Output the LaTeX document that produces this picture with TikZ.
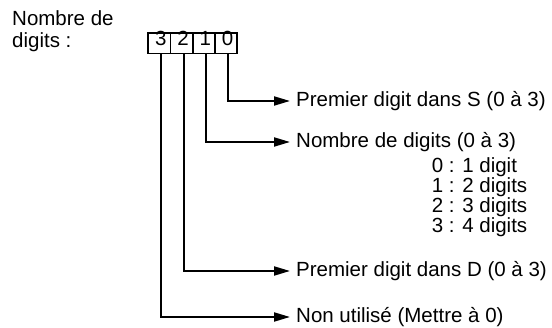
\documentclass[tikz,border=0pt]{standalone}
\usepackage{fontspec}
\setmainfont{Liberation Sans}
\usetikzlibrary{positioning, arrows.meta}

\begin{document}
\begin{tikzpicture}[x=1pt, y=-1pt,
          bit/.style={rectangle, draw, line width=1.8pt, minimum width=22.25pt, minimum height=20.5pt, inner sep=0pt},
          txt/.style={font=\fontsize{20.5}{22}\selectfont, inner sep=0pt, anchor=west},
          arrow/.style={-{Triangle[length=16pt, width=9pt]}, line width=2pt, shorten >=6pt}
        ]
        \useasboundingbox (0,0) rectangle (552,328);
        \node[txt, anchor=north west, align=left] (title) at (12, 10.5) {Nombre de\\digits :};
        % register digits
        \foreach \d [count=\i] in {3,2,1,0} {
          \node[bit] (b\d) at ({148.3+22.25*(\i-0.5)}, 43.3) {};
          \node[txt, anchor=center] (n\d) at ([xshift=1.5pt, yshift=5pt]b\d.center) {\d};
        }
        % descriptions
        \node[txt] (t0) at (296, 101) {Premier digit dans S (0 à 3)};
        \node[txt] (t1) at (296, 142) {Nombre de digits (0 à 3)};
        \foreach \n/\s [count=\k] in {0/1 digit, 1/2 digits, 2/3 digits, 3/4 digits} {
          \node[txt] (c\k) at (431.7, {147+20*\k}) {\n{} : \s};
        }
        \node[txt] (t2) at (296, 271) {Premier digit dans D (0 à 3)};
        \node[txt] (t3) at (296, 317) {Non utilisé (Mettre à 0)};
        \foreach \d in {0,...,3} {
          \draw[arrow] ([xshift=2pt]b\d.south) |- (t\d.west);
        }
      \end{tikzpicture}
\end{document}
